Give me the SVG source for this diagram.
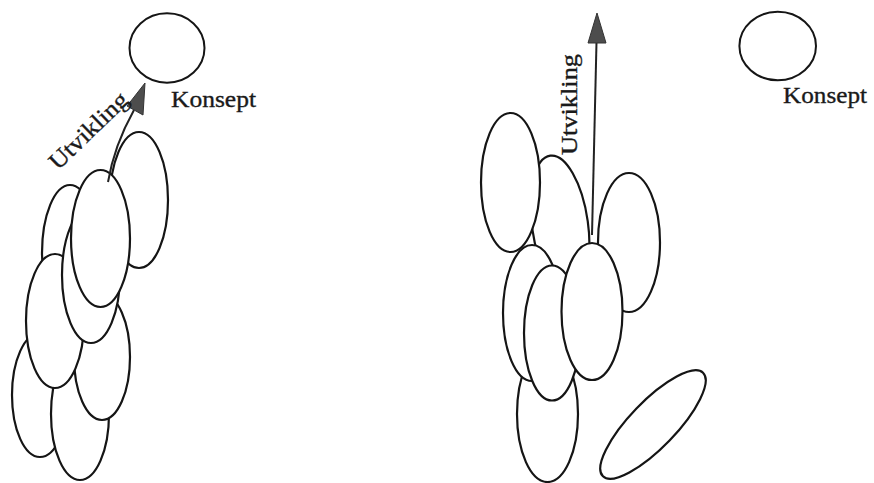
<svg xmlns="http://www.w3.org/2000/svg" width="874" height="483" viewBox="0 0 874 483">
<style>
.e{fill:#fff;stroke:#151515;stroke-width:2.2}
.c{fill:#fff;stroke:#151515;stroke-width:2}
.t{font-family:"Liberation Serif","Times New Roman",serif;font-size:24px;fill:#1a1a1a;stroke:#1a1a1a;stroke-width:0.35}
.sh{fill:none;stroke:#222;stroke-width:2}
.hd{fill:#4d4d4d;stroke:#333;stroke-width:1}
</style>
<rect width="874" height="483" fill="#fff"/>
<g id="left-stack">
<ellipse id="l1" class="e" cx="139" cy="200" rx="29" ry="68"/>
<ellipse id="l3" class="e" cx="70" cy="253" rx="28" ry="68"/>
<ellipse id="l7" class="e" cx="40" cy="395" rx="28" ry="62"/>
<ellipse id="l8" class="e" cx="80" cy="414" rx="29" ry="66"/>
<ellipse id="l6" class="e" cx="102" cy="357" rx="28" ry="63"/>
<ellipse id="l5" class="e" cx="55" cy="321" rx="29" ry="67"/>
<ellipse id="l4" class="e" cx="91" cy="275" rx="29" ry="68"/>
<ellipse id="l2" class="e" cx="100.5" cy="238.5" rx="29.5" ry="68.5"/>
</g>
<g id="left-konsept">
<ellipse class="c" cx="167" cy="48" rx="37.5" ry="34.7"/>
<text class="t" x="171" y="107" textLength="85" lengthAdjust="spacingAndGlyphs">Konsept</text>
</g>
<g id="right-stack">
<ellipse id="rB" class="e" cx="560" cy="225" rx="28" ry="70" transform="rotate(-8 560 225)"/>
<ellipse id="rA" class="e" cx="510.5" cy="182.5" rx="29.5" ry="69.5"/>
<ellipse id="rC" class="e" cx="629" cy="242.5" rx="31" ry="69.5"/>
<ellipse id="rG" class="e" cx="547.5" cy="414" rx="30.5" ry="68"/>
<ellipse id="rD" class="e" cx="532" cy="313" rx="29" ry="68"/>
<ellipse id="rE" class="e" cx="552" cy="333" rx="28" ry="67.5"/>
<ellipse id="rF" class="e" cx="592" cy="311.5" rx="30.5" ry="68.5"/>
</g>
<g id="right-loose">
<ellipse id="rH" class="e" cx="653" cy="424.5" rx="72" ry="23" transform="rotate(-46 653 424.5)"/>
</g>
<g id="right-konsept">
<ellipse class="c" cx="777.7" cy="46" rx="38.3" ry="34.2"/>
<text class="t" x="783" y="103" textLength="84" lengthAdjust="spacingAndGlyphs">Konsept</text>
</g>
<g id="connectors">
<path class="sh" d="M108,182 Q114,146 134,110"/>
<polygon class="hd" points="145,83 127,106 143,115"/>
<line class="sh" x1="592" y1="235" x2="596.5" y2="42"/>
<polygon class="hd" points="597,13 588,43 606,43"/>
</g>
<g id="labels">
<text class="t" transform="translate(58,171) rotate(-44)" textLength="100" lengthAdjust="spacingAndGlyphs">Utvikling</text>
<text class="t" transform="translate(577,155) rotate(-90)" textLength="101" lengthAdjust="spacingAndGlyphs">Utvikling</text>
</g>
</svg>
